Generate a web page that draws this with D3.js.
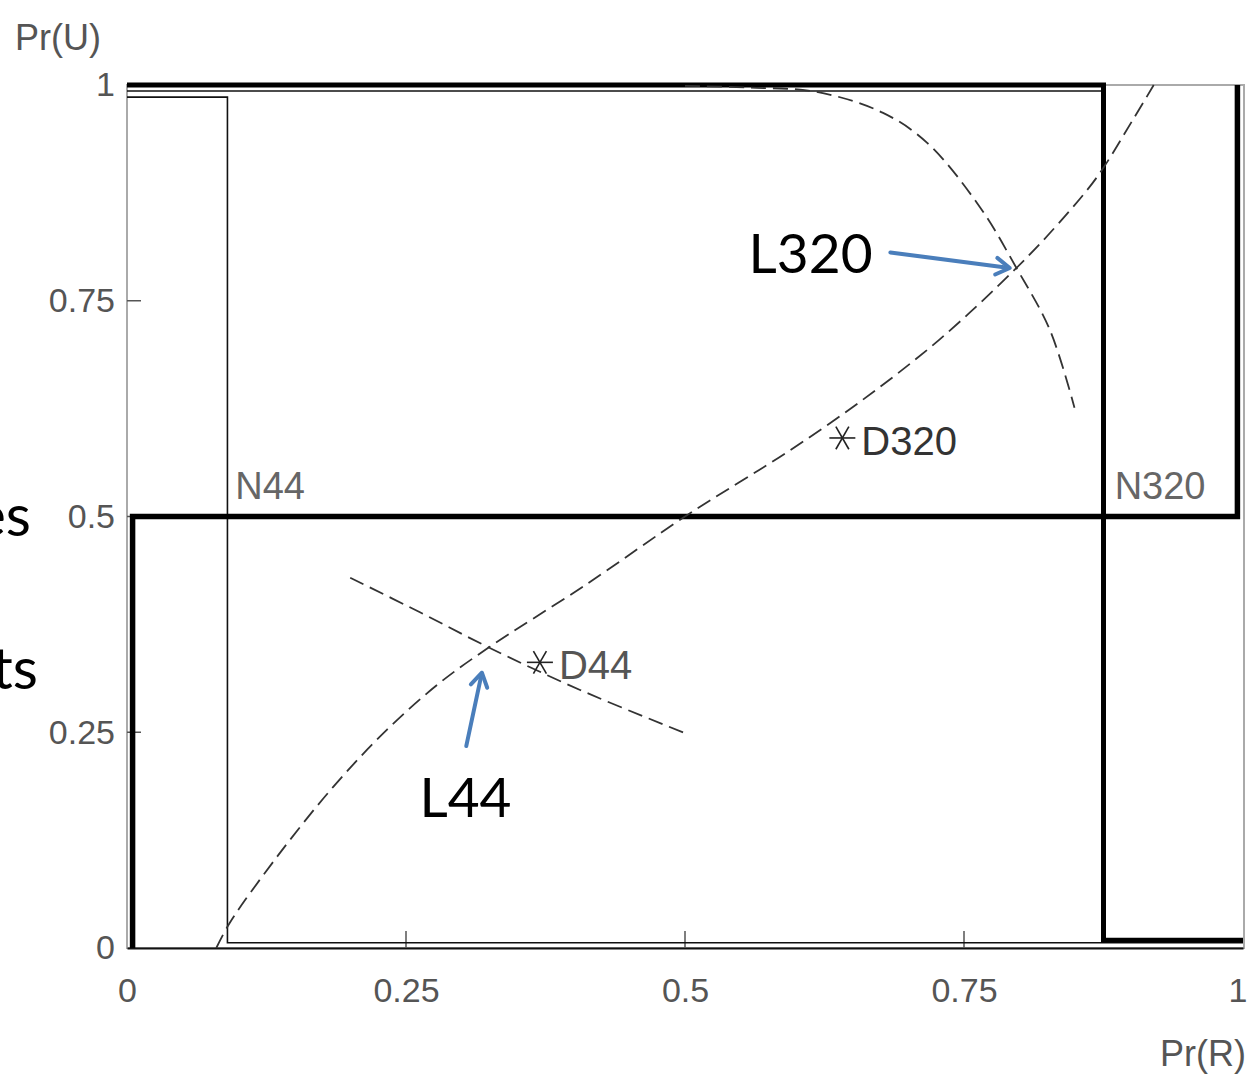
<!DOCTYPE html>
<html lang="en">
<head>
<meta charset="UTF-8">
<title>Pr(U) vs Pr(R)</title>
<script src="https://cdn.jsdelivr.net/npm/d3@7"></script>
<style>
  body { margin: 0; background: #fff; }
  svg { display: block; }
</style>
</head>
<body>
<script>
// tick values
var xTicks = [0, 0.25, 0.5, 0.75, 1];
var yTicks = [0, 0.25, 0.5, 0.75, 1];
var xTickLabels = ["0", "0.25", "0.5", "0.75", "1"];
var yTickLabels = ["0", "0.25", "0.5", "0.75", "1"];

// best response lines (Pr(R), Pr(U))
var n320Row = [[0, 1], [0.875, 1], [0.875, 0.009], [1, 0.009]];
var n320Col = [[0.005, 0], [0.005, 0.5], [0.995, 0.5], [0.995, 1]];
var n44Row = [[0, 0.986], [0.09, 0.986], [0.09, 0.006], [1, 0.006]];
var n44Top = [[0, 0.993], [0.875, 0.993]];

// dashed curves
var curveUp = [[0.08, 0], [0.092, 0.029], [0.134, 0.105], [0.185, 0.187], [0.233, 0.253],
  [0.28, 0.307], [0.325, 0.349], [0.41, 0.42], [0.5, 0.5], [0.549, 0.54], [0.591, 0.574],
  [0.659, 0.635], [0.728, 0.705], [0.797, 0.788], [0.835, 0.84], [0.869, 0.893],
  [0.901, 0.959], [0.92, 1.0]];
var curveL320 = [[0.5, 0.999], [0.558, 0.997], [0.618, 0.992], [0.677, 0.968], [0.717, 0.933],
  [0.764, 0.859], [0.797, 0.788], [0.827, 0.716], [0.849, 0.626]];
var curveL44 = [[0.2, 0.429], [0.2625, 0.389], [0.323, 0.349], [0.406, 0.299], [0.5, 0.249]];

// points
var pointNames = ["D320", "D44"];
var pointX = [0.641, 0.37];
var pointY = [0.591, 0.331];

// annotation arrows: [from, to]
var arrowL320 = [[0.684, 0.806], [0.791, 0.788]];
var arrowL44 = [[0.304, 0.234], [0.318, 0.319]];

var width = 1247, height = 1074;
var svg = d3.select("body").append("svg").attr("width", width).attr("height", height);

var x = d3.scaleLinear().domain([0, 1]).range([127, 1243]);
var y = d3.scaleLinear().domain([0, 1]).range([948, 85]);

var tickFont = "'Liberation Sans', Arial, sans-serif";

// frame
svg.append("rect").attr("x", x(0)).attr("y", y(1)).attr("width", x(1) - x(0) + 1).attr("height", y(0) - y(1))
  .attr("fill", "none").attr("stroke", "#aaa").attr("stroke-width", 2);

// bottom axis
var xAxis = d3.axisBottom(x).tickValues(xTicks).tickSize(0).tickPadding(30).tickFormat(function(d, i) { return xTickLabels[i]; });
var gx = svg.append("g").attr("transform", "translate(0," + y(0) + ")").call(xAxis);
gx.select(".domain").attr("stroke", "#111").attr("stroke-width", 2);
gx.selectAll("text").attr("font-family", tickFont).attr("font-size", 34).attr("fill", "#555");
// last label kept inside the page
gx.selectAll("text").filter(function(d) { return d === 1; }).attr("text-anchor", "end").attr("dx", 4);
// x ticks pointing in
svg.selectAll(".xtick").data(xTicks.slice(1, 4)).enter().append("line")
  .attr("x1", function(d) { return x(d); }).attr("x2", function(d) { return x(d); })
  .attr("y1", y(0)).attr("y2", y(0) - 17).attr("stroke", "#555").attr("stroke-width", 1.5);

// left axis
var yAxis = d3.axisLeft(y).tickValues(yTicks).tickSize(0).tickPadding(12).tickFormat(function(d, i) { return yTickLabels[i]; });
var gy = svg.append("g").attr("transform", "translate(" + x(0) + ",0)").call(yAxis);
gy.select(".domain").remove();
gy.selectAll("text").attr("font-family", tickFont).attr("font-size", 34).attr("fill", "#555");
svg.selectAll(".ytick").data(yTicks.slice(1, 4)).enter().append("line")
  .attr("x1", x(0)).attr("x2", x(0) + 14)
  .attr("y1", function(d) { return y(d); }).attr("y2", function(d) { return y(d); })
  .attr("stroke", "#555").attr("stroke-width", 1.5);

// axis titles
svg.append("text").attr("x", 15).attr("y", 50).text("Pr(U)")
  .attr("font-family", tickFont).attr("font-size", 36).attr("fill", "#555");
svg.append("text").attr("x", 1160).attr("y", 1066).text("Pr(R)")
  .attr("font-family", tickFont).attr("font-size", 36).attr("fill", "#555");

var line = d3.line().x(function(d) { return x(d[0]); }).y(function(d) { return y(d[1]); });
var smooth = d3.line().x(function(d) { return x(d[0]); }).y(function(d) { return y(d[1]); }).curve(d3.curveCatmullRom);

// thin lines
svg.append("path").datum(n44Row).attr("d", line).attr("fill", "none").attr("stroke", "#111").attr("stroke-width", 1.6);
svg.append("path").datum(n44Top).attr("d", line).attr("fill", "none").attr("stroke", "#111").attr("stroke-width", 1.6);

// thick lines
svg.append("path").datum(n320Row).attr("d", line).attr("fill", "none").attr("stroke", "#000").attr("stroke-width", 5);
svg.append("path").datum(n320Col).attr("d", line).attr("fill", "none").attr("stroke", "#000").attr("stroke-width", 5.5);

// dashed curves
[curveUp, curveL320, curveL44].forEach(function(c) {
  svg.append("path").datum(c).attr("d", smooth).attr("fill", "none")
    .attr("stroke", "#333").attr("stroke-width", 1.8).attr("stroke-dasharray", "15,7");
});

// asterisks
pointNames.forEach(function(name, i) {
  var cx = x(pointX[i]), cy = y(pointY[i]), r = 13;
  var g = svg.append("g");
  [0, 60, 120].forEach(function(a) {
    var rad = a * Math.PI / 180;
    g.append("line").attr("x1", cx - r * Math.cos(rad)).attr("y1", cy - r * Math.sin(rad))
      .attr("x2", cx + r * Math.cos(rad)).attr("y2", cy + r * Math.sin(rad))
      .attr("stroke", "#222").attr("stroke-width", 1.6);
  });
  svg.append("text").attr("x", cx + 19).attr("y", cy + 17).text(name)
    .attr("font-family", tickFont).attr("font-size", 40).attr("fill", i === 0 ? "#333" : "#555");
});

// region labels
svg.append("text").attr("x", x(0.097)).attr("y", y(0.52)).text("N44")
  .attr("font-family", tickFont).attr("font-size", 38).attr("fill", "#666");
svg.append("text").attr("x", x(0.885)).attr("y", y(0.52)).text("N320")
  .attr("font-family", tickFont).attr("font-size", 38).attr("fill", "#666");

// annotations
var annFont = "Lato, 'Open Sans', sans-serif";
svg.append("text").attr("x", x(0.557)).attr("y", y(0.782)).text("L320")
  .attr("font-family", annFont).attr("font-size", 55).attr("fill", "#000");
svg.append("text").attr("x", x(0.262)).attr("y", y(0.152)).text("L44")
  .attr("font-family", annFont).attr("font-size", 55).attr("fill", "#000");
svg.append("text").attr("x", 31).attr("y", 536).attr("text-anchor", "end").text("es")
  .attr("font-family", annFont).attr("font-size", 58).attr("fill", "#000");
svg.append("text").attr("x", 38).attr("y", 689).attr("text-anchor", "end").text("ts")
  .attr("font-family", annFont).attr("font-size", 58).attr("fill", "#000");

var blue = "#4a7ebb";
[arrowL320, arrowL44].forEach(function(a) {
  var x1 = x(a[0][0]), y1 = y(a[0][1]), x2 = x(a[1][0]), y2 = y(a[1][1]);
  var ang = Math.atan2(y2 - y1, x2 - x1), h = 16, s = 0.55;
  svg.append("line").attr("x1", x1).attr("y1", y1).attr("x2", x2 - 2 * Math.cos(ang)).attr("y2", y2 - 2 * Math.sin(ang))
    .attr("stroke", blue).attr("stroke-width", 4).attr("stroke-linecap", "round");
  svg.append("path")
    .attr("d", "M" + (x2 - h * Math.cos(ang - s)) + "," + (y2 - h * Math.sin(ang - s)) +
      "L" + x2 + "," + y2 + "L" + (x2 - h * Math.cos(ang + s)) + "," + (y2 - h * Math.sin(ang + s)))
    .attr("fill", "none").attr("stroke", blue).attr("stroke-width", 4)
    .attr("stroke-linecap", "round").attr("stroke-linejoin", "round");
});
</script>
</body>
</html>
